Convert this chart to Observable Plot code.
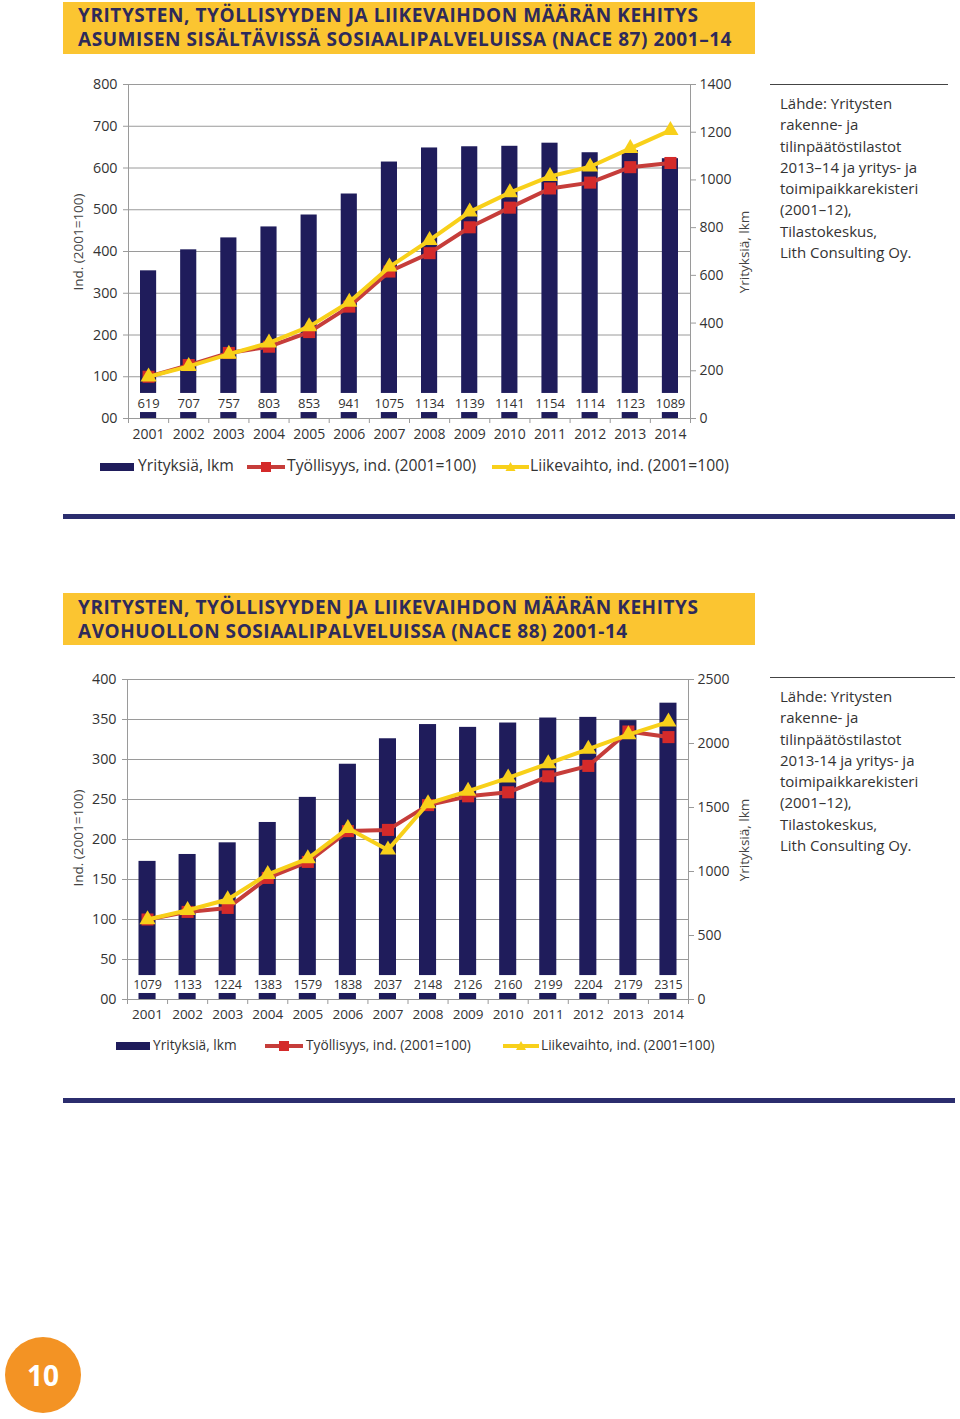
<!DOCTYPE html>
<html><head><meta charset="utf-8">
<script src="https://cdn.jsdelivr.net/npm/d3@7"></script>
<script src="https://cdn.jsdelivr.net/npm/@observablehq/plot@0.6"></script>
<style>
body{margin:0;width:960px;height:1419px;position:relative;background:#fff;font-family:"Open Sans",sans-serif;overflow:hidden}
.abs{position:absolute}
.title{background:#fbc531;color:#2e2a5a;font-weight:700;font-size:19px;letter-spacing:0.55px;line-height:24px;padding-left:15px;box-sizing:border-box;white-space:nowrap}
.src{font-size:15px;line-height:21.3px;color:#333;border-top:1.5px solid #444;padding-top:8px;box-sizing:border-box}
.rule{background:#2b2d6e;height:5px}
.leg{color:#333;white-space:nowrap;line-height:1}
.vlab{position:absolute;width:200px;height:20px;line-height:20px;text-align:center;font-size:13.5px;color:#444;transform:translate(-100px,-10px) rotate(-90deg);white-space:nowrap}
.num{width:76px;height:76px;border-radius:50%;background:#f39324;color:#fff;font-weight:700;font-size:28px;display:flex;align-items:center;justify-content:center}
</style></head><body>

<div class="abs title" style="left:63px;top:2px;width:692px;height:52px;padding-top:1px">YRITYSTEN, TYÖLLISYYDEN JA LIIKEVAIHDON MÄÄRÄN KEHITYS<br>ASUMISEN SISÄLTÄVISSÄ SOSIAALIPALVELUISSA (NACE 87) 2001–14</div>
<div id="c1" class="abs" style="left:60px;top:70px"></div>
<div id="v1"></div>
<div class="abs src" style="left:770px;top:84px;width:178px;padding-left:10px">Lähde: Yritysten<br>rakenne- ja<br>tilinpäätöstilastot<br>2013–14 ja yritys- ja<br>toimipaikkarekisteri<br>(2001–12),<br>Tilastokeskus,<br>Lith Consulting Oy.</div>
<div id="l1"></div>
<div class="abs rule" style="left:63px;top:514px;width:892px"></div>

<div class="abs title" style="left:63px;top:593px;width:692px;height:52px;padding-top:2px">YRITYSTEN, TYÖLLISYYDEN JA LIIKEVAIHDON MÄÄRÄN KEHITYS<br>AVOHUOLLON SOSIAALIPALVELUISSA (NACE 88) 2001-14</div>
<div id="c2" class="abs" style="left:60px;top:665px"></div>
<div id="v2"></div>
<div class="abs src" style="left:770px;top:677px;width:185px;padding-left:10px">Lähde: Yritysten<br>rakenne- ja<br>tilinpäätöstilastot<br>2013-14 ja yritys- ja<br>toimipaikkarekisteri<br>(2001–12),<br>Tilastokeskus,<br>Lith Consulting Oy.</div>
<div id="l2"></div>
<div class="abs rule" style="left:63px;top:1098px;width:892px"></div>

<div class="abs num" style="left:5px;top:1337px">10</div>

<script>
// ---- Data ----
const years = [2001,2002,2003,2004,2005,2006,2007,2008,2009,2010,2011,2012,2013,2014];

// Chart 1: NACE 87
const companies87 = [619,707,757,803,853,941,1075,1134,1139,1141,1154,1114,1123,1089];
const employment87 = [100,128,157,172,207,268,352,396,458,505,551,565,602,612];
const turnover87 = [100,125,154,181,220,279,363,427,495,541,580,603,647,690];
const leftTicks87 = [0,100,200,300,400,500,600,700,800];
const rightTicks87 = [0,200,400,600,800,1000,1200,1400];

// Chart 2: NACE 88
const companies88 = [1079,1133,1224,1383,1579,1838,2037,2148,2126,2160,2199,2204,2179,2315];
const employment88 = [100,109.5,114.5,152,172,210.5,212,243,254,259,279,292,335,328];
const turnover88 = [100,111.5,125,156.5,176,214,187,245,260.5,277,295,313,331,347];
const leftTicks88 = [0,50,100,150,200,250,300,350,400];
const rightTicks88 = [0,500,1000,1500,2000,2500];

const legendLabels = ["Yrityksiä, lkm","Työllisyys, ind. (2001=100)","Liikevaihto, ind. (2001=100)"];
const leftLabel = "Ind. (2001=100)";
const rightLabel = "Yrityksiä, lkm";

const NAVY="#1f1c5b", RED_LINE="#c63d3a", RED_DOT="#d42a2a", YEL="#f8d01a", GRID="#9a9a9a";

function chart(o){
  const leftMax = o.leftTicks[o.leftTicks.length-1];
  const rightMax = o.rightTicks[o.rightTicks.length-1];
  const k = leftMax/rightMax;
  const plotH = o.height - o.marginTop - o.marginBottom;
  const unitsPerPx = leftMax/plotH;
  const rows = years.map((y,i)=>({year:y, count:o.counts[i], emp:o.emp[i], turn:o.turn[i]}));
  return Plot.plot({
    width:700, height:o.height,
    marginTop:o.marginTop, marginBottom:o.marginBottom, marginLeft:o.marginLeft, marginRight:o.marginRight,
    style:{fontFamily:"Open Sans", fontSize:"14px", color:"#333", background:"transparent", overflow:"visible"},
    x:{type:"linear", domain:[years[0]-0.5, years[years.length-1]+0.5], axis:null},
    y:{domain:[0,leftMax], axis:null},
    marks:[
      Plot.gridY(o.leftTicks, {stroke:GRID, strokeOpacity:1}),
      Plot.rectY(rows, {x1:d=>d.year-0.5, x2:d=>d.year+0.5, y1:0, y2:d=>d.count*k, fill:NAVY, insetLeft:o.inset, insetRight:o.inset}),
      Plot.rectY(rows, {x1:d=>d.year-0.5, x2:d=>d.year+0.5, y1:o.gapLo*k, y2:o.gapHi*k, fill:"white", insetLeft:6, insetRight:6}),
      Plot.text(rows, {x:"year", y:o.labelY*k, text:d=>String(d.count), fontSize:o.dataFont, fill:"#333"}),
      Plot.frame({stroke:GRID}),
      Plot.axisY(o.leftTicks, {anchor:"left", tickSize:5, tickPadding:6, stroke:GRID, tickFormat:d=>d===0?"00":String(d), label:null, fontSize:14.3}),
      Plot.axisY(o.rightTicks.map(v=>v*k), {anchor:"right", tickSize:5, tickPadding:4, stroke:GRID, tickFormat:d=>String(Math.round(d/k)), label:null, fontSize:14}),
      Plot.axisX(years, {tickSize:0, tickPadding:o.yearPad, tickFormat:d=>String(d), label:null, fontSize:o.yearFont}),
      Plot.ruleX([...years.map(y=>y-0.5), years[years.length-1]+0.5], {x:d=>d, y1:0, y2:-5*unitsPerPx, stroke:GRID}),
      Plot.line(rows, {x:"year", y:"emp", stroke:RED_LINE, strokeWidth:4}),
      Plot.dot(rows, {x:"year", y:"emp", symbol:"square", r:6.8, fill:RED_DOT}),
      Plot.line(rows, {x:"year", y:"turn", stroke:YEL, strokeWidth:4}),
      Plot.dot(rows, {x:"year", y:"turn", symbol:"triangle", r:6, fill:YEL})
    ]
  });
}

document.getElementById("c1").append(chart({
  counts:companies87, emp:employment87, turn:turnover87,
  leftTicks:leftTicks87, rightTicks:rightTicks87,
  height:380, marginTop:14, marginBottom:32, marginLeft:68, marginRight:70,
  inset:12, gapLo:25, gapHi:105, labelY:63, dataFont:13, yearPad:11, yearFont:14
}));
document.getElementById("c2").append(chart({
  counts:companies88, emp:employment88, turn:turnover88,
  leftTicks:leftTicks88, rightTicks:rightTicks88,
  height:370, marginTop:14, marginBottom:36, marginLeft:67, marginRight:72,
  inset:11.5, gapLo:47, gapHi:187, labelY:117, dataFont:12.5, yearPad:10, yearFont:13.5
}));

function vlabels(el, lx, ly, rx, ry){
  el.innerHTML = `<div class="vlab" style="left:${lx}px;top:${ly}px">${leftLabel}</div>` +
                 `<div class="vlab" style="left:${rx}px;top:${ry}px">${rightLabel}</div>`;
}
vlabels(document.getElementById("v1"), 78, 242, 744, 252);
vlabels(document.getElementById("v2"), 78, 838, 744, 840);

function legend(el, cy, fs, items){
  const html = items.map((it,i)=>{
    let sw;
    const w = it.w;
    if(i===0) sw = `<svg width="${w}" height="10" style="position:absolute;left:${it.x}px;top:${cy-5}px"><rect x="0" y="1" width="${w}" height="8" fill="${NAVY}"/></svg>`;
    else if(i===1) sw = `<svg width="${w}" height="12" style="position:absolute;left:${it.x}px;top:${cy-6}px"><line x1="0" x2="${w}" y1="6" y2="6" stroke="${RED_LINE}" stroke-width="4"/><rect x="${w/2-5}" y="1" width="10" height="10" fill="${RED_DOT}"/></svg>`;
    else sw = `<svg width="${w}" height="12" style="position:absolute;left:${it.x}px;top:${cy-6}px"><line x1="0" x2="${w}" y1="6" y2="6" stroke="${YEL}" stroke-width="4"/><path d="M${w/2-5},10L${w/2},1L${w/2+5},10Z" fill="${YEL}"/></svg>`;
    return sw + `<div class="abs leg" style="left:${it.tx}px;top:${cy - fs*0.6}px;font-size:${fs}px">${legendLabels[i]}</div>`;
  }).join("");
  el.innerHTML = html;
}
legend(document.getElementById("l1"), 467, 15.7, [{x:100,w:34,tx:138},{x:247,w:38,tx:287},{x:492,w:37,tx:530}]);
legend(document.getElementById("l2"), 1046, 13.7, [{x:116,w:34,tx:153},{x:265,w:38,tx:306},{x:503,w:36,tx:541}]);
</script>
</body></html>
